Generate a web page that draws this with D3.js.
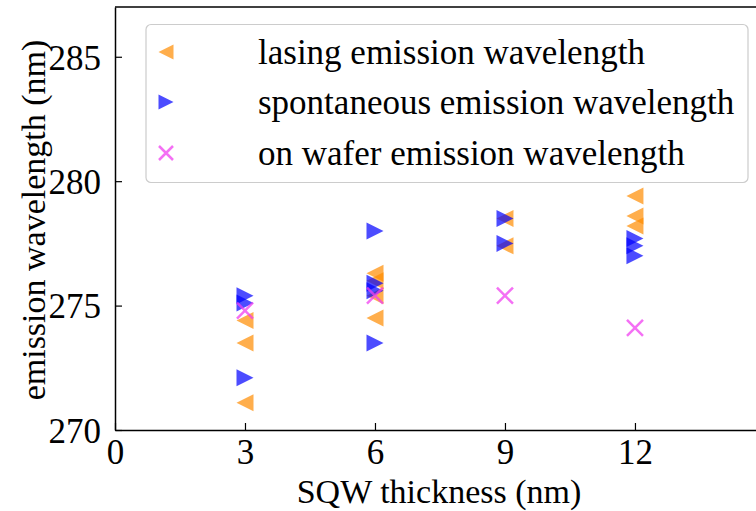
<!DOCTYPE html>
<html>
<head>
<meta charset="utf-8">
<script src="https://cdn.jsdelivr.net/npm/d3@7/dist/d3.min.js"></script>
<style>
  html, body { margin: 0; padding: 0; background: #fff; }
  svg { display: block; }
  text { font-family: "Liberation Serif", "Times New Roman", serif; fill: #000; }
</style>
</head>
<body>
<svg id="chart" width="756" height="511"></svg>
<script>
// SQW thickness (nm) for each measured device
const lasingX = [3, 3, 3, 6, 6, 6, 6, 9, 9, 12, 12, 12];
const lasingY = [274.4, 273.5, 271.1, 276.3, 276.0, 275.4, 274.5, 278.5, 277.4, 279.4, 278.6, 278.2];

const spontX = [3, 3, 3, 6, 6, 6, 6, 9, 9, 12, 12, 12];
const spontY = [275.4, 275.1, 272.1, 278.0, 275.9, 275.6, 273.5, 278.5, 277.5, 277.7, 277.4, 277.0];

const waferX = [3, 6, 9, 12];
const waferY = [274.8, 275.4, 275.4, 274.1];

const xTicks = [0, 3, 6, 9, 12];
const yTicks = [270, 275, 280, 285];

const legendLabels = [
  "lasing emission wavelength",
  "spontaneous emission wavelength",
  "on wafer emission wavelength"
];

const svg = d3.select("#chart");
const padLeft = 115, padTop = 7, padBottom = 430;
const x = d3.scaleLinear().domain([0, 15]).range([padLeft, padLeft + 15 * 43.33]);
const y = d3.scaleLinear().domain([270, 287]).range([padBottom, padTop]);

const orange = "#ff8c00", blue = "#0000ff", pink = "#f040f0";

// marker shapes
const triSize = 17;
function triPath(dir, s) {
  const h = s / 2;
  return dir === "left"
    ? `M${-h},0L${h},${-h}L${h},${h}Z`
    : `M${h},0L${-h},${-h}L${-h},${h}Z`;
}
function crossPath(s) {
  const h = s / 2;
  return `M${-h},${-h}L${h},${h}M${-h},${h}L${h},${-h}`;
}

const plot = svg.append("g");

plot.selectAll("path.lasing")
  .data(lasingY.map((v, i) => [lasingX[i], v]))
  .join("path")
  .attr("class", "lasing")
  .attr("d", triPath("left", triSize))
  .attr("transform", d => `translate(${x(d[0])},${y(d[1])})`)
  .attr("fill", orange).attr("fill-opacity", 0.7);

plot.selectAll("path.spont")
  .data(spontY.map((v, i) => [spontX[i], v]))
  .join("path")
  .attr("class", "spont")
  .attr("d", triPath("right", triSize))
  .attr("transform", d => `translate(${x(d[0])},${y(d[1])})`)
  .attr("fill", blue).attr("fill-opacity", 0.7);

plot.selectAll("path.wafer")
  .data(waferY.map((v, i) => [waferX[i], v]))
  .join("path")
  .attr("class", "wafer")
  .attr("d", crossPath(16))
  .attr("transform", d => `translate(${x(d[0])},${y(d[1])})`)
  .attr("fill", "none").attr("stroke", pink).attr("stroke-opacity", 0.75)
  .attr("stroke-width", 2.5);

// axes with inward ticks
const xAxis = d3.axisBottom(x).tickValues(xTicks).tickSizeInner(-7).tickSizeOuter(0).tickPadding(9);
const yAxis = d3.axisLeft(y).tickValues(yTicks).tickSizeInner(-7).tickSizeOuter(0).tickPadding(14);

const gx = svg.append("g").attr("transform", `translate(0,${padBottom})`).call(xAxis);
const gy = svg.append("g").attr("transform", `translate(${padLeft},0)`).call(yAxis);
[gx, gy].forEach(g => {
  g.select(".domain").attr("stroke", "#000").attr("stroke-width", 1.5);
  g.selectAll(".tick line").attr("stroke", "#000").attr("stroke-width", 1.2);
  g.selectAll(".tick text").style("font-family", '"Liberation Serif", serif').style("font-size", "35px").attr("fill", "#000");
});
gx.selectAll(".tick text").attr("dy", "0.71em");
gy.selectAll(".tick text").attr("dy", "0.35em");

// top spine
svg.append("line").attr("x1", padLeft).attr("x2", 756).attr("y1", padTop).attr("y2", padTop)
  .attr("stroke", "#000").attr("stroke-width", 1.5);

// axis titles
svg.append("text").attr("x", 439).attr("y", 503).attr("text-anchor", "middle")
  .style("font-size", "34px").text("SQW thickness (nm)");
svg.append("text").attr("transform", "translate(45,220) rotate(-90)").attr("text-anchor", "middle")
  .style("font-size", "34px").text("emission wavelength (nm)");

// legend
const lg = svg.append("g");
lg.append("rect").attr("x", 146).attr("y", 24.5).attr("width", 602).attr("height", 158).attr("rx", 5)
  .attr("fill", "#fff").attr("fill-opacity", 0.8).attr("stroke", "#ccc").attr("stroke-width", 1.2);
const rowY = [52, 102, 153];
lg.append("path").attr("d", triPath("left", 15)).attr("transform", `translate(166,${rowY[0]})`)
  .attr("fill", orange).attr("fill-opacity", 0.7);
lg.append("path").attr("d", triPath("right", 15)).attr("transform", `translate(166,${rowY[1]})`)
  .attr("fill", blue).attr("fill-opacity", 0.7);
lg.append("path").attr("d", crossPath(14)).attr("transform", `translate(166,${rowY[2]})`)
  .attr("fill", "none").attr("stroke", pink).attr("stroke-opacity", 0.75).attr("stroke-width", 2.5);
lg.selectAll("text.lab").data(legendLabels).join("text").attr("class", "lab")
  .attr("x", 258).attr("y", (d, i) => rowY[i]).attr("dy", "0.33em")
  .style("font-size", "35px").text(d => d);
</script>
</body>
</html>
